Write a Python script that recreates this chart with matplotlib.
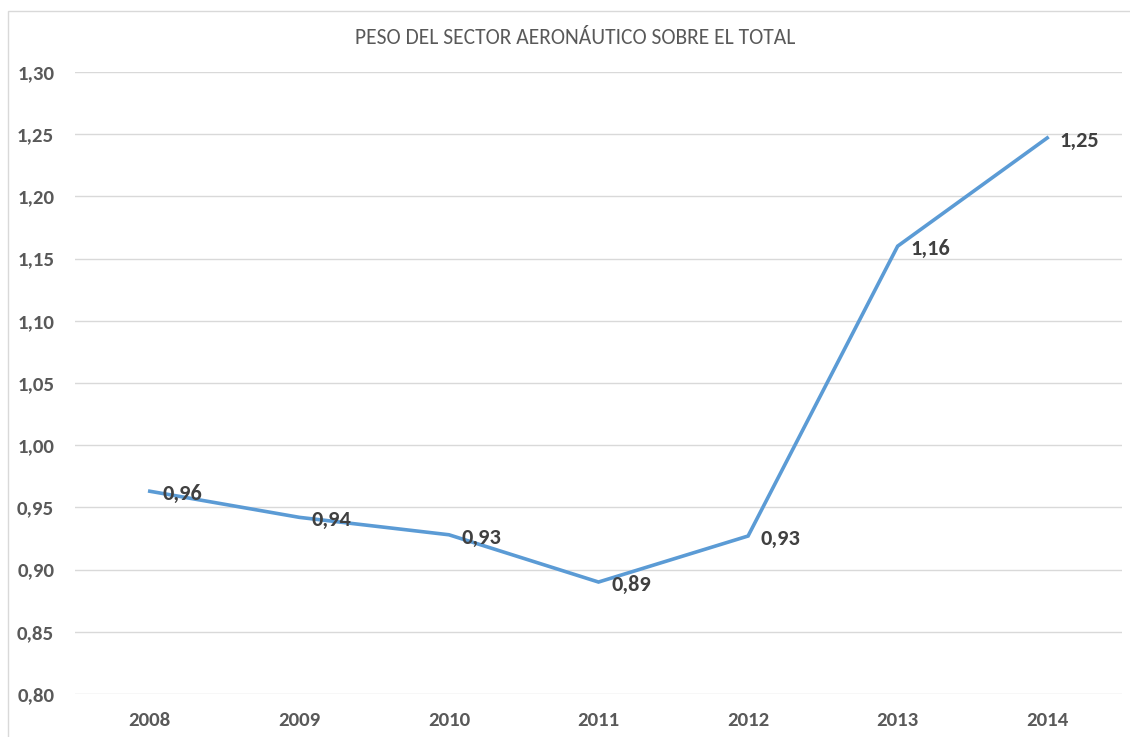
import matplotlib
matplotlib.use("Agg")
import matplotlib.pyplot as plt
from matplotlib.patches import Rectangle

# Datos
years = ["2008", "2009", "2010", "2011", "2012", "2013", "2014"]
peso = [0.963, 0.942, 0.928, 0.890, 0.927, 1.160, 1.247]
labels = ["0,96", "0,94", "0,93", "0,89", "0,93", "1,16", "1,25"]
yticks = [0.80, 0.85, 0.90, 0.95, 1.00, 1.05, 1.10, 1.15, 1.20, 1.25, 1.30]

plt.rcParams['font.family'] = ['Carlito', 'DejaVu Sans']

fig = plt.figure(figsize=(11.3, 7.37), dpi=100)
ax = fig.add_axes([75 / 1130, 1 - 694 / 737, 1047 / 1130, 622 / 737])

# marco del area del grafico
fig.patches.append(Rectangle((8 / 1130, -0.01), 1.02, 1 - 11 / 737 + 0.01,
                             transform=fig.transFigure, fill=False,
                             edgecolor='#d9d9d9', linewidth=1))

x = list(range(len(years)))
ax.plot(x, peso, color='#5b9bd5', linewidth=2.6, solid_joinstyle='miter')

for xi, yi, lab in zip(x, peso, labels):
    ax.annotate(lab, (xi, yi), xytext=(9, -2), textcoords='offset points',
                ha='left', va='center', fontsize=16, fontweight='bold',
                color='#404040')

ax.set_xlim(-0.5, len(years) - 0.5)
ax.set_ylim(0.80, 1.30)
ax.set_yticks(yticks)
ax.set_yticklabels([f"{v:.2f}".replace('.', ',') for v in yticks])
ax.set_xticks(x)
ax.set_xticklabels(years)
ax.tick_params(axis='both', length=0, labelsize=15, labelcolor='#595959')
for lab in ax.get_xticklabels() + ax.get_yticklabels():
    lab.set_fontweight('bold')
ax.tick_params(axis='y', pad=15)
ax.tick_params(axis='x', pad=13)

ax.grid(axis='y', color='#d9d9d9', linewidth=1)
ax.set_axisbelow(True)
for s in ax.spines.values():
    s.set_visible(False)

fig.text(575 / 1130, 1 - 38 / 737, "PESO DEL SECTOR AERONÁUTICO SOBRE EL TOTAL",
         ha='center', va='center', fontsize=15.5, color='#595959')

fig.savefig("out.png", dpi=100)
